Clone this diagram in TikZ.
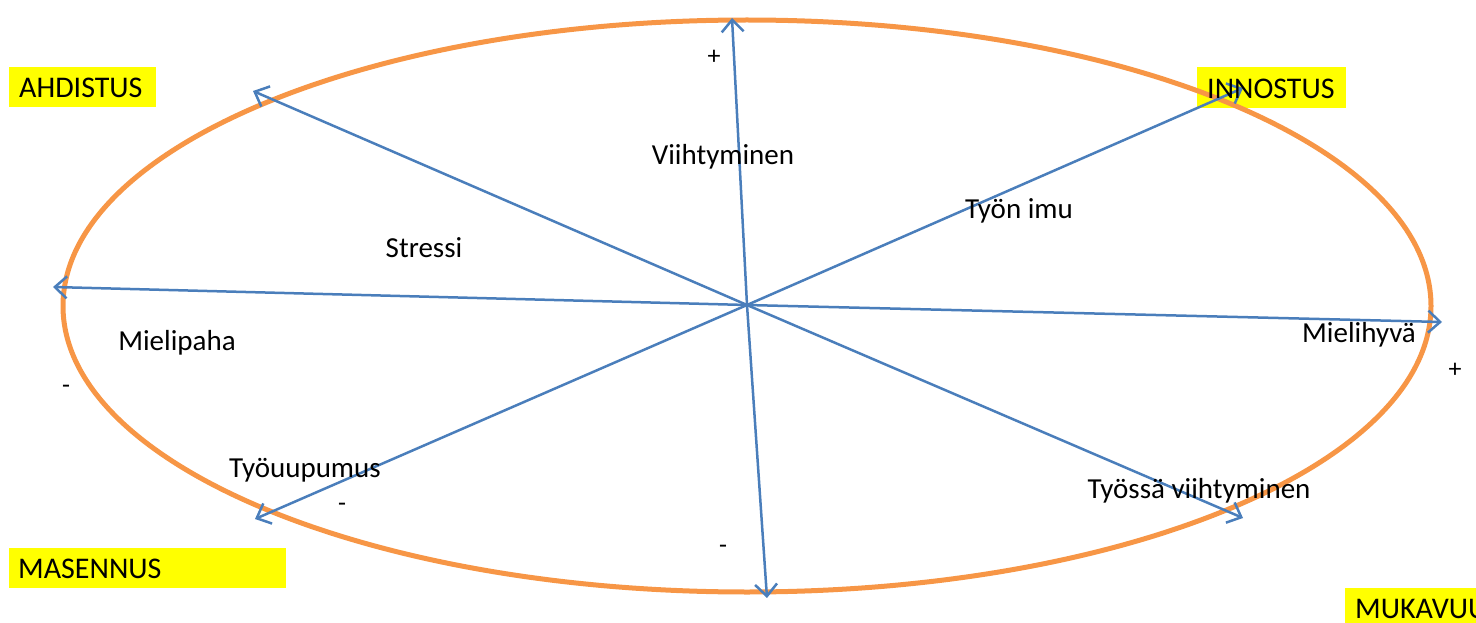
\documentclass[tikz,border=0pt]{standalone}
\usepackage{fontspec}
\setmainfont{Carlito}
\usetikzlibrary{arrows.meta}
\definecolor{ring}{HTML}{F79646}
\definecolor{axis}{HTML}{4A7EBB}
\definecolor{hl}{HTML}{FFFF00}
\tikzset{
  ax/.style={draw=axis, line width=2.5pt, -{Straight Barb[length=12pt,width=22pt,line width=2.5pt]}},
  lab/.style={font=\fontsize{29}{34}\selectfont, inner sep=0pt, text=black},
  sgn/.style={font=\fontsize{26}{30}\selectfont, inner sep=0pt, text=black},
  mood/.style={font=\fontsize{30}{36}\selectfont, fill=hl, inner sep=0pt, anchor=north west, text=black}
}
\begin{document}
\begin{tikzpicture}[x=1pt,y=-1pt]
\useasboundingbox (0,0) rectangle (1476,623);
\clip (0,0) rectangle (1476,623);
% yellow mood boxes
\node[mood, minimum width=147pt, minimum height=40pt] (ahd) at (9,67) {};
\node[lab, font=\fontsize{30}{36}\selectfont, anchor=west] (ahdt) at (19,88) {AHDISTUS};
\node[mood, minimum width=149pt, minimum height=41pt] (inn) at (1197,67) {};
\node[mood, minimum width=277pt, minimum height=40pt] (mas) at (9,548) {};
\node[lab, font=\fontsize{30}{36}\selectfont, anchor=west] (mast) at (18,569) {MASENNUS};
\node[mood, minimum width=140pt, minimum height=40pt] (muk) at (1345,588) {};
\node[lab, font=\fontsize{30}{36}\selectfont, anchor=west] (mukt) at (1355,609) {MUKAVUUS};
% ellipse
\draw[ring, line width=5pt] (747,306) ellipse [x radius=684, y radius=286];
% axes
\coordinate (c) at (747,305);
\coordinate (up) at (732,18);
\coordinate (dn) at (767,598);
\coordinate (lf) at (53,287);
\coordinate (rt) at (1442,322);
\coordinate (ul) at (253,91);
\coordinate (ur) at (1243,88);
\coordinate (ll) at (255,519);
\coordinate (lr) at (1243,518);
\foreach \e in {up,dn,lf,rt,ul,ur,ll,lr} \draw[ax] (c) -- (\e);
\node[lab, font=\fontsize{30}{36}\selectfont, anchor=west] (innt) at (1207,89) {INNOSTUS};
% labels
\node[lab] (viih) at (723,157) {Viihtyminen};
\node[lab] (stre) at (424,248) {Stressi};
\node[lab] (imu) at (1019,211) {Työn imu};
\node[lab] (mpah) at (177,343) {Mielipaha};
\node[lab] (mhyv) at (1359,335) {Mielihyvä};
\node[lab] (tuup) at (305,470) {Työuupumus};
\node[lab] (tviih) at (1199,491) {Työssä viihtyminen};
% signs
\node[sgn] (p1) at (714,57) {+};
\node[sgn] (p2) at (1455,370) {+};
\node[sgn] (m1) at (66,389) {-};
\node[sgn] (m2) at (342,507) {-};
\node[sgn] (m3) at (723,549) {-};
\end{tikzpicture}
\end{document}
